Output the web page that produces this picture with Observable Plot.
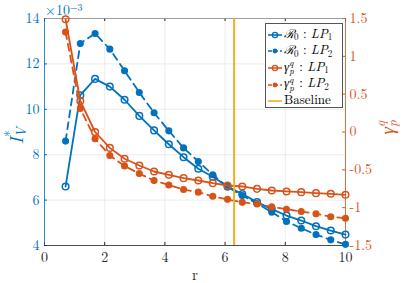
<!DOCTYPE html>
<html><head><meta charset="utf-8">
<script src="https://cdn.jsdelivr.net/npm/d3@7"></script>
<script src="https://cdn.jsdelivr.net/npm/@observablehq/plot@0.6"></script>
<style>
body{margin:0;background:#fff}
#wrap{position:relative;width:403px;height:283px;font-family:'Latin Modern Roman','Liberation Serif',serif;overflow:hidden}
#wrap svg text{font-family:'Latin Modern Roman','Liberation Serif',serif !important}
.lab{position:absolute;white-space:nowrap;line-height:1}
.ss{display:inline-block;position:relative;width:0.5em;height:1em;vertical-align:top;line-height:1}
.ss .up{position:absolute;left:0;top:-0.3em;font-size:0.7em;line-height:1}
.ss .dn{position:absolute;left:0;top:0.6em;font-size:0.7em;line-height:1}
#legend{position:absolute;left:265px;top:23px;width:78px;height:85px;border:1px solid #555;background:#fff;box-sizing:border-box;font-size:13px}
.row{position:absolute;left:1px;height:16px;line-height:16px;white-space:nowrap}
.row svg{vertical-align:middle;margin-right:1px}
.row .ss{margin-top:3px}
.sb{font-size:0.7em;position:relative;top:0.3em;line-height:1}
</style></head><body><div id="wrap"></div>
<script>
const r = [0.7,1.19,1.68,2.17,2.66,3.15,3.64,4.13,4.62,5.11,5.59,6.08,6.57,7.06,7.55,8.04,8.53,9.02,9.51,10];
const r0LP1 = [6.6,10.62,11.34,11.0,10.42,9.71,9.07,8.46,7.89,7.38,7.03,6.6,6.27,5.91,5.6,5.32,5.1,4.85,4.66,4.48];
const r0LP2 = [8.6,12.9,13.34,12.65,11.7,10.74,9.85,9.05,8.3,7.7,7.12,6.58,6.2,5.85,5.47,5.06,4.76,4.48,4.25,4.05];
const gLP1 = [1.49,0.41,0.0,-0.21,-0.354,-0.443,-0.522,-0.566,-0.61,-0.641,-0.676,-0.707,-0.72,-0.751,-0.773,-0.786,-0.795,-0.808,-0.817,-0.83];
const gLP2 = [1.32,0.31,-0.09,-0.31,-0.45,-0.55,-0.64,-0.70,-0.76,-0.795,-0.85,-0.89,-0.93,-0.95,-0.99,-1.02,-1.05,-1.08,-1.12,-1.14];
const baseline = [6.3];
const xTicks = [0,2,4,6,8,10];
const leftTicks = [4,6,8,10,12,14];
const rightTicks = [-1.5,-1,-0.5,0,0.5,1,1.5];
const leftDomain = [4,14], rightDomain = [-1.5,1.5];

const BLUE="#0072BD", ORANGE="#D95319", YELLOW="#EDB120";
const toLeft = g => leftDomain[0] + (g-rightDomain[0])/(rightDomain[1]-rightDomain[0])*(leftDomain[1]-leftDomain[0]);

const blue1 = r.map((x,i)=>({x, y:r0LP1[i]}));
const blue2 = r.map((x,i)=>({x, y:r0LP2[i]}));
const or1 = r.map((x,i)=>({x, y:toLeft(gLP1[i])}));
const or2 = r.map((x,i)=>({x, y:toLeft(gLP2[i])}));

const W=403,H=283,ML=44,MR=58,MT=18,MB=38;
const pw = W-ML-MR, ph = H-MT-MB;
const FF = "'Latin Modern Roman', 'Liberation Serif', serif";

const chart = Plot.plot({
  width:W, height:H, marginLeft:ML, marginRight:MR, marginTop:MT, marginBottom:MB,
  style:{fontFamily:FF, fontSize:"14px", background:"transparent", overflow:"visible"},
  x:{domain:[0,10]},
  y:{domain:leftDomain},
  marks:[
    Plot.gridX(xTicks,{stroke:"#e6e6e6", strokeOpacity:1, strokeWidth:0.8}),
    Plot.gridY(leftTicks,{stroke:"#e6e6e6", strokeOpacity:1, strokeWidth:0.8}),
    Plot.axisX(xTicks,{tickSize:0, tickPadding:7, fill:"#262626", fontSize:14, fontFamily:FF, label:null}),
    Plot.axisY(leftTicks,{tickSize:0, tickPadding:5, fill:BLUE, fontSize:14, fontFamily:FF, label:null}),
    Plot.axisY(rightTicks.map(toLeft),{anchor:"right", tickSize:0, tickPadding:4, fill:ORANGE, fontSize:14, fontFamily:FF, label:null,
      tickFormat:(d,i)=>String(rightTicks[i])}),
    Plot.tickX(xTicks,{x:d=>d, stroke:"#262626", insetTop:ph-3}),
    Plot.tickX(xTicks,{x:d=>d, stroke:"#262626", insetBottom:ph-3}),
    Plot.tickY(leftTicks,{y:d=>d, stroke:BLUE, insetRight:pw-3}),
    Plot.tickY(rightTicks.map(toLeft),{y:d=>d, stroke:ORANGE, insetLeft:pw-3}),
    Plot.ruleY([leftDomain[0]],{stroke:"#262626", strokeWidth:0.8}),
    Plot.ruleY([leftDomain[1]],{stroke:"#8c8c8c", strokeWidth:0.8}),
    Plot.ruleX([0],{stroke:BLUE, strokeWidth:0.8}),
    Plot.ruleX([10],{stroke:ORANGE, strokeWidth:0.8}),
    Plot.line(blue1,{x:"x",y:"y",stroke:BLUE,strokeWidth:1.8}),
    Plot.dot(blue1,{x:"x",y:"y",stroke:BLUE,fill:"none",r:3.3,strokeWidth:1.5}),
    Plot.line(blue2,{x:"x",y:"y",stroke:BLUE,strokeWidth:1.8,strokeDasharray:"7,5"}),
    Plot.dot(blue2,{x:"x",y:"y",fill:BLUE,stroke:BLUE,r:2.8}),
    Plot.line(or1,{x:"x",y:"y",stroke:ORANGE,strokeWidth:1.8}),
    Plot.dot(or1,{x:"x",y:"y",stroke:ORANGE,fill:"none",r:3.3,strokeWidth:1.5}),
    Plot.line(or2,{x:"x",y:"y",stroke:ORANGE,strokeWidth:1.8,strokeDasharray:"7,5"}),
    Plot.dot(or2,{x:"x",y:"y",fill:ORANGE,stroke:ORANGE,r:2.8}),
    Plot.ruleX(baseline,{stroke:YELLOW,strokeWidth:2})
  ]
});
const wrap = document.getElementById("wrap");
wrap.appendChild(chart);

function addLabel(html, css){
  const d=document.createElement("div"); d.className="lab"; d.innerHTML=html; d.style.cssText+=css; wrap.appendChild(d); return d;
}
addLabel("r","left:192px;top:266px;height:15px;font-size:15px;color:#262626;");
addLabel("\u00d710<span style='font-size:0.7em;position:relative;top:-0.45em'>\u22123</span>","left:45px;top:2px;font-size:14px;color:"+BLUE+";");
addLabel("<i>I</i><span class='ss'><span class='up'>*</span><span class='dn'><i>V</i></span></span>",
  "left:15px;top:136px;font-size:19px;color:"+BLUE+";transform:translate(-50%,-50%) rotate(-90deg);");
addLabel("<i>\u03b3</i><span class='ss'><span class='up'><i>q</i></span><span class='dn'><i>p</i></span></span>",
  "left:386px;top:126px;font-size:19px;color:"+ORANGE+";transform:translate(-50%,-50%) rotate(-90deg);");

const legend = document.createElement("div"); legend.id="legend"; wrap.appendChild(legend);
const Rcal = "<span style=\"font-family:'DejaVu Serif';font-style:italic;font-size:12px\">\u211b</span>";
const gam = "<i>\u03b3</i><span class='ss' style='width:0.45em;height:10px'><span class='up'><i>q</i></span><span class='dn'><i>p</i></span></span>";
const items = [
  {c:BLUE, dash:false, open:true, t:Rcal+"<span class='sb'>0</span> : <i>LP</i><span class='sb'>1</span>"},
  {c:BLUE, dash:true, open:false, t:Rcal+"<span class='sb'>0</span> : <i>LP</i><span class='sb'>2</span>"},
  {c:ORANGE, dash:false, open:true, t:gam+" : <i>LP</i><span class='sb'>1</span>"},
  {c:ORANGE, dash:true, open:false, t:gam+" : <i>LP</i><span class='sb'>2</span>"},
  {c:YELLOW, dash:false, open:null, t:"Baseline"}
];
items.forEach((it,i)=>{
  const row=document.createElement("div"); row.className="row"; row.style.top=(0.5+i*16.6)+"px";
  let mk = it.open===null ? "" : it.open ? `<circle cx="8" cy="5" r="2.6" fill="none" stroke="${it.c}" stroke-width="1.4"/>` : `<circle cx="8" cy="5" r="2.4" fill="${it.c}"/>`;
  row.innerHTML = `<svg width="16" height="10"><line x1="1" x2="15" y1="5" y2="5" stroke="${it.c}" stroke-width="1.6" ${it.dash?'stroke-dasharray="4,2"':''}/>${mk}</svg><span>${it.t}</span>`;
  legend.appendChild(row);
});
</script></body></html>
